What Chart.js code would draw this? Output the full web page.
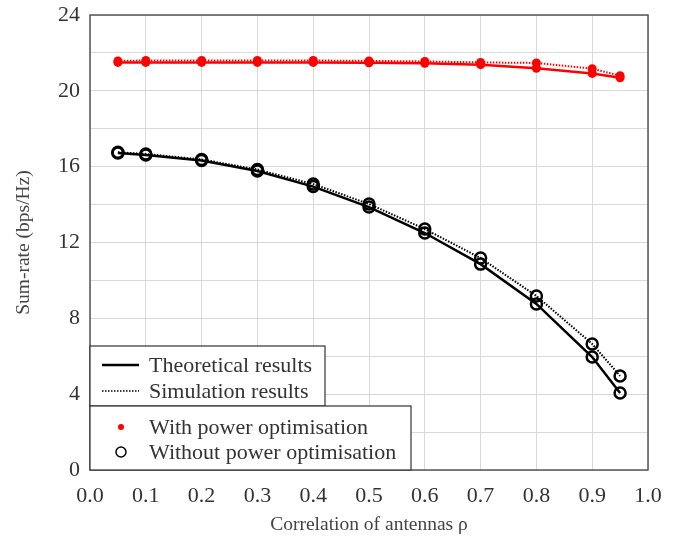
<!DOCTYPE html>
<html>
<head>
<meta charset="utf-8">
<script src="https://cdn.jsdelivr.net/npm/chart.js@4"></script>
<style>
  html, body { margin: 0; padding: 0; background: #fff; }
  #wrap { width: 682px; height: 537px; position: relative; }
</style>
</head>
<body>
<div id="wrap"><canvas id="chart" width="682" height="537"></canvas></div>
<script>
const rho = [0.05, 0.1, 0.2, 0.3, 0.4, 0.5, 0.6, 0.7, 0.8, 0.9, 0.95];
const withOptTheory = [21.5, 21.5, 21.5, 21.5, 21.5, 21.48, 21.45, 21.38, 21.19, 20.92, 20.69];
const withOptSim    = [21.58, 21.6, 21.6, 21.6, 21.6, 21.58, 21.55, 21.5, 21.47, 21.17, 20.8];
const noOptTheory   = [16.72, 16.62, 16.33, 15.77, 14.95, 13.87, 12.5, 10.86, 8.76, 5.96, 4.06];
const noOptSim      = [16.76, 16.67, 16.38, 15.85, 15.08, 14.03, 12.71, 11.18, 9.18, 6.65, 4.96];
const xTicks = [0, 0.1, 0.2, 0.3, 0.4, 0.5, 0.6, 0.7, 0.8, 0.9, 1.0];
const yTicks = [0, 4, 8, 12, 16, 20, 24];

const serif = "'Liberation Serif', 'DejaVu Serif', serif";

function pts(ys) {
  return rho.map((x, i) => ({ x: x, y: ys[i] }));
}

const legendBoxes = {
  id: "legendBoxes",
  afterDraw(c) {
    const ctx = c.ctx;
    const left = c.chartArea.left;
    const bottom = c.chartArea.bottom;
    ctx.save();
    ctx.lineWidth = 1.2;
    ctx.strokeStyle = "#333";
    ctx.fillStyle = "#fff";
    // line-style box
    ctx.fillRect(left, 346, 235, 60);
    ctx.strokeRect(left, 346, 235, 60);
    // marker box
    ctx.fillRect(left, 406, 321, bottom - 406);
    ctx.strokeRect(left, 406, 321, bottom - 406);

    ctx.strokeStyle = "#000";
    ctx.lineWidth = 2.5;
    ctx.beginPath();
    ctx.moveTo(102, 365); ctx.lineTo(139, 365);
    ctx.stroke();
    ctx.lineWidth = 1.5;
    ctx.setLineDash([1.5, 1.5]);
    ctx.beginPath();
    ctx.moveTo(102, 391); ctx.lineTo(139, 391);
    ctx.stroke();
    ctx.setLineDash([]);

    ctx.fillStyle = "#ff0000";
    ctx.beginPath();
    ctx.arc(121, 427, 3, 0, Math.PI * 2);
    ctx.fill();
    ctx.lineWidth = 1.5;
    ctx.beginPath();
    ctx.arc(121, 452, 5, 0, Math.PI * 2);
    ctx.stroke();

    ctx.fillStyle = "#333";
    ctx.font = "22px " + serif;
    ctx.textBaseline = "middle";
    ctx.fillText("Theoretical results", 149, 366);
    ctx.fillText("Simulation results", 149, 392);
    ctx.fillText("With power optimisation", 149, 428);
    ctx.fillText("Without power optimisation", 149, 453);
    ctx.restore();
  }
};

const frame = {
  id: "frame",
  afterDatasetsDraw(c) {
    const a = c.chartArea;
    const ctx = c.ctx;
    ctx.save();
    ctx.strokeStyle = "#555";
    ctx.lineWidth = 1.5;
    ctx.strokeRect(a.left, a.top, a.right - a.left, a.bottom - a.top);
    ctx.restore();
  }
};

const ctx = document.getElementById("chart").getContext("2d");
new Chart(ctx, {
  type: "line",
  data: {
    datasets: [
      { label: "with-theory", data: pts(withOptTheory), borderColor: "#ff0000", backgroundColor: "#ff0000",
        borderWidth: 2.5, pointRadius: 4.5, pointBorderWidth: 0, pointStyle: "circle" },
      { label: "with-sim", data: pts(withOptSim), borderColor: "#ff0000", backgroundColor: "#ff0000",
        borderWidth: 2, borderDash: [1.5, 1.5], pointRadius: 4.5, pointBorderWidth: 0 },
      { label: "no-theory", data: pts(noOptTheory), borderColor: "#000", backgroundColor: "rgba(0,0,0,0)",
        borderWidth: 2.5, pointRadius: 5.5, pointBorderWidth: 2.5, pointBorderColor: "#000" },
      { label: "no-sim", data: pts(noOptSim), borderColor: "#000", backgroundColor: "rgba(0,0,0,0)",
        borderWidth: 2, borderDash: [1.5, 1.5], pointRadius: 5.5, pointBorderWidth: 2.5, pointBorderColor: "#000" }
    ]
  },
  options: {
    responsive: false,
    animation: false,
    layout: { padding: { top: 15, right: 34, left: 0, bottom: 0 } },
    plugins: { legend: { display: false }, tooltip: { enabled: false } },
    scales: {
      x: {
        type: "linear", min: 0, max: 1,
        afterBuildTicks: s => { s.ticks = xTicks.map(v => ({ value: v })); },
        afterFit: s => { s.height = 67; },
        grid: { color: "#d9d9d9", lineWidth: 1, drawTicks: false },
        border: { display: false },
        ticks: { color: "#333", font: { family: serif, size: 22 }, padding: 13,
                 callback: v => v.toFixed(1) },
        title: { display: true, text: "Correlation of antennas ρ", color: "#444",
                 font: { family: serif, size: 19.5 }, padding: { top: 2, bottom: 0 } }
      },
      y: {
        min: 0, max: 24,
        afterBuildTicks: s => { s.ticks = [];
          for (let v = 0; v <= 24; v += 2) s.ticks.push({ value: v }); },
        afterFit: s => { s.width = 90; s.paddingTop = 0; s.paddingBottom = 0; },
        grid: { color: "#d9d9d9", lineWidth: 1, drawTicks: false },
        border: { display: false },
        ticks: { color: "#333", font: { family: serif, size: 22 }, padding: 10,
                 callback: v => yTicks.includes(v) ? String(v) : "" },
        title: { display: true, text: "Sum-rate (bps/Hz)", color: "#444",
                 font: { family: serif, size: 19.5 }, padding: { top: 12, bottom: 2 } }
      }
    }
  },
  plugins: [frame, legendBoxes]
});
</script>
</body>
</html>
